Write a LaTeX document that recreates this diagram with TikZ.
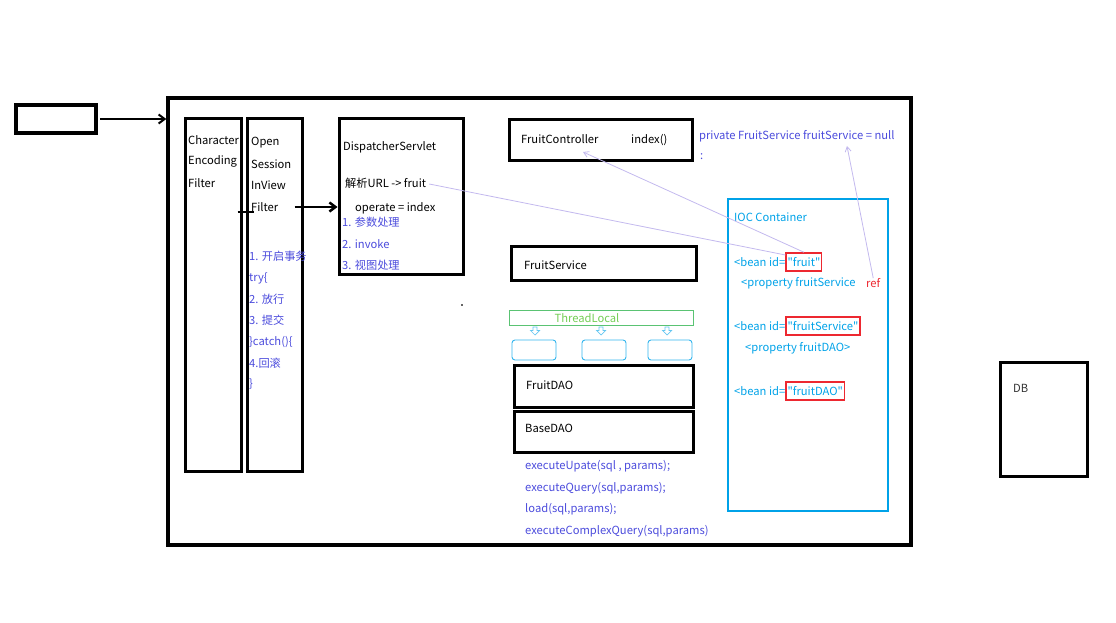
\documentclass[tikz,border=0pt]{standalone}
\usepackage{fontspec}
\setmainfont{Noto Sans CJK SC}[Ligatures=TeXOff]
\usetikzlibrary{positioning,arrows.meta}
\definecolor{ink}{RGB}{75,75,220}
\definecolor{iocc}{RGB}{0,162,232}
\definecolor{lavc}{RGB}{195,185,238}
\definecolor{pred}{RGB}{237,40,48}
\definecolor{pgreen}{RGB}{90,195,115}
\definecolor{lgreen}{RGB}{115,205,85}
\begin{document}
\begin{tikzpicture}[x=1pt,y=-1pt,
  every node/.style={inner sep=0pt,anchor=west,font=\fontsize{11.2}{13}\selectfont},
  blk/.style={draw,line width=3pt,anchor=center},
  blu/.style={text=ink}, cy/.style={text=iocc},
  idbox/.style={draw=pred,line width=1.3pt,inner xsep=1.5pt,inner ysep=4.5pt,text=iocc},
  cache/.style={draw=iocc!80,line width=.9pt,rounded corners=3pt,anchor=center,minimum width=44,minimum height=20},
  link/.style={draw=lavc,line width=.8pt},
  tip/.style={-{Straight Barb[length=5pt,width=6pt]}}]
\useasboundingbox (0,0) rectangle (1116,623);
% outer parts
\node[blk,line width=4pt,minimum width=80,minimum height=28] (init) at (56,119) {};
\node[blk,line width=3.5pt,minimum width=743,minimum height=447] (frame) at (539.5,321.5) {};
\draw[line width=2pt,-{Straight Barb[length=6pt,width=9pt]},shorten <=2pt] (init.east) -- (frame.west |- init.east);
\node[blk,minimum width=87,minimum height=114] (db) at (1043.5,419) {};
\node[text=black!80] (dbt) at (1013,388) {DB};
% filters
\node[blk,minimum width=56,minimum height=352] (cef) at (213,295) {};
\node (c1) at (188,140) {Character}; \node (c2) at (188,161) {Encoding}; \node (c3) at (188,183) {Filter};
\node[blk,minimum width=55,minimum height=352] (osiv) at (274.5,295) {};
\node (o1) at (251,143) {Open}; \node (o2) at (251,164) {Session}; \node (o3) at (251,185) {InView}; \node (o4) at (251,207) {Filter};
\node[blu] (t1) at (249,256) {1. 开启事务}; \node[blu] (t2) at (249,278) {try\{}; \node[blu] (t3) at (249,299) {2. 放行};
\node[blu] (t4) at (249,320) {3. 提交}; \node[blu] (t5) at (249,342) {\}catch()\{}; \node[blu] (t6) at (249,363) {4.回滚};
\node[blu] (t7) at (249,384) {\}};
\coordinate (tk) at (0,212);
\draw[line width=2.5pt] (cef.east |- tk) ++(-5,0) -- ++(16,0);
% dispatcher
\node[blk,minimum width=124,minimum height=155] (disp) at (401,196.5) {};
\node (dname) at (343,147) {DispatcherServlet};
\node (url) at (345,183) {解析URL -> fruit};
\node (op) at (355,208) {operate = index};
\node[blu] (d1) at (342,222) {1. 参数处理}; \node[blu] (d2) at (342,244) {2. invoke}; \node[blu] (d3) at (342,265) {3. 视图处理};
\draw[line width=2.5pt,-{Straight Barb[length=6pt,width=9pt]}] (osiv.east |- o4) ++(-9,0) -- (disp.west |- o4);
\fill[black!60] (461,304) rectangle (463,306);
% controller, service, dao
\node[blk,minimum width=183,minimum height=40] (ctrl) at (600.5,140) {};
\node (ctxt) at (521,139) {FruitController}; \node (idx) at (631,140) {index()};
\node[blu] (priv) at (699,136) {private FruitService fruitService = null};
\node[blu] (colon) at (700,157) {:};
\node[blk,minimum width=185,minimum height=34] (svc) at (603.5,263) {};
\node (stxt) at (524,265) {FruitService};
\node[draw=pgreen,line width=1pt,anchor=center,minimum width=184,minimum height=15] (tl) at (601,317.5) {};
\node[text=lgreen,anchor=center] (tltxt) at (587,318) {ThreadLocal};
\foreach \x in {535,601,667}
  \draw[iocc!60,line width=.7pt] (\x-2,327) -- (\x+2,327) -- (\x+2,330.5) -- (\x+4.5,330.5) -- (\x,335) -- (\x-4.5,330.5) -- (\x-2,330.5) -- cycle;
\node[cache] (k1) at (534,350) {}; \node[cache] (k2) at (604,350) {}; \node[cache] (k3) at (670,350) {};
\node[blk,minimum width=179,minimum height=42] (dao) at (603.5,386) {};
\node (dtxt) at (526,385) {FruitDAO};
\node[blk,minimum width=179,minimum height=41] (base) at (603.5,431.5) {};
\node (btxt) at (525,428) {BaseDAO};
\node[blu] (m1) at (525,466) {executeUpate(sql , params);};
\node[blu] (m2) at (525,488) {executeQuery(sql,params);};
\node[blu] (m3) at (525,509) {load(sql,params);};
\node[blu] (m4) at (525,531) {executeComplexQuery(sql,params)};
% ioc container
\node[draw=iocc,line width=2.5pt,anchor=center,minimum width=160,minimum height=312] (ioc) at (808,355) {};
\node[cy] (iot) at (734,217) {IOC Container};
\node[cy] (b1) at (734,262) {<bean id=}; \node[idbox,right=0pt of b1] (fr) {"fruit"};
\node[cy] (p1) at (741,283) {<property fruitService}; \node[text=pred] (ref) at (866,283) {ref};
\node[cy] (b2) at (734,326) {<bean id=}; \node[idbox,right=0pt of b2] (frs) {"fruitService"};
\node[cy] (p2) at (745,348) {<property fruitDAO>};
\node[cy] (b3) at (734,391) {<bean id=}; \node[idbox,right=0pt of b3] (frd) {"fruitDAO"};
% links
\coordinate (ctlpt) at (583,152); \coordinate (fspt) at (847,146);
\draw[link] (url.east) ++(3,1) -- ([yshift=7]fr.west);
\draw[link,tip] (fr.north) -- (ctlpt);
\draw[link,tip] (ref.north) -- (fspt);
\end{tikzpicture}
\end{document}
